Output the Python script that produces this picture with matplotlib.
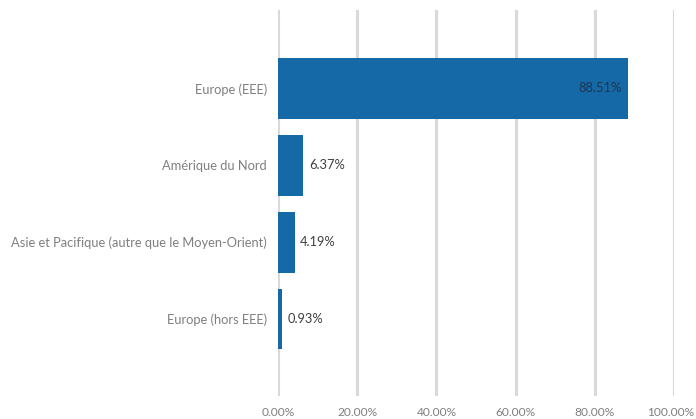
import matplotlib
matplotlib.use("Agg")
import matplotlib.pyplot as plt
from matplotlib.ticker import FuncFormatter
from matplotlib.transforms import ScaledTranslation

categories = ["Europe (EEE)", "Amérique du Nord",
              "Asie et Pacifique (autre que le Moyen-Orient)", "Europe (hors EEE)"]
values = [88.51, 6.37, 4.19, 0.93]
xticks = [0, 20, 40, 60, 80, 100]

plt.rcParams['font.family'] = ['Lato', 'DejaVu Sans']

fig = plt.figure(figsize=(6.96, 4.19), dpi=100)
ax = fig.add_axes([278/696, 1 - 396/419, 396/696, 386/419])

pos = list(range(len(categories)))
ax.barh(pos, values, height=0.79, color="#1569a6", zorder=3)
ax.set_ylim(4.0, -1.02)
ax.set_xlim(0, 100)

for x in xticks:
    ax.axvline(x, color="#d9d9d9", lw=2.2, zorder=1)

ax.set_xticks(xticks)
ax.xaxis.set_major_formatter(FuncFormatter(lambda v, p: f"{v:.2f}%"))
ax.set_yticks(pos)
ax.set_yticklabels(categories)
ax.tick_params(axis='both', length=0, labelcolor="#7f7f7f")
ax.tick_params(axis='y', pad=8, labelsize=9.3)
ax.tick_params(axis='x', pad=8, labelsize=8.6)
for s in ax.spines.values():
    s.set_visible(False)

fig.canvas.draw()
last = ax.get_xticklabels()[-1]
last.set_transform(last.get_transform() + ScaledTranslation(-3/100, 0, fig.dpi_scale_trans))

for p, v in zip(pos, values):
    if v > 50:
        ax.text(v - 1.8, p, f"{v:.2f}%", ha="right", va="center",
                fontsize=9.3, color="#1f3550", zorder=4)
    else:
        ax.text(v + 1.4, p, f"{v:.2f}%", ha="left", va="center",
                fontsize=9.3, color="#404040", zorder=4)

fig.savefig("out.png", dpi=100)
